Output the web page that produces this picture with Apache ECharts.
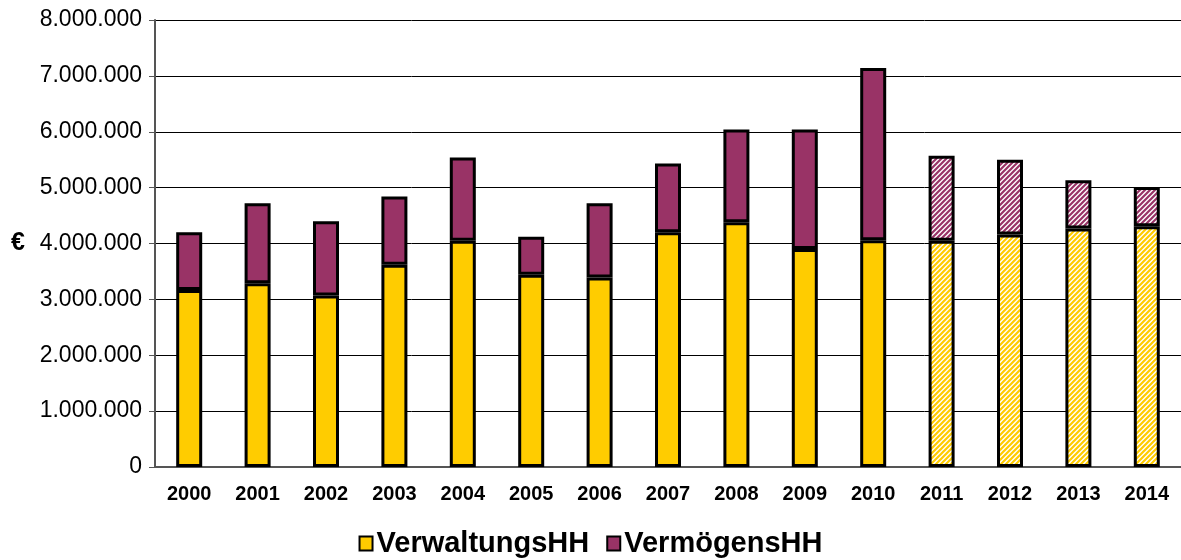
<!DOCTYPE html>
<html>
<head>
<meta charset="utf-8">
<script src="https://cdn.jsdelivr.net/npm/echarts@6/dist/echarts.min.js"></script>
<style>
  html, body { margin: 0; padding: 0; background: #fff; }
  #main { width: 1181px; height: 560px; }
</style>
</head>
<body>
<div id="main"></div>
<script>
// Daten
var years = ['2000', '2001', '2002', '2003', '2004', '2005', '2006', '2007',
             '2008', '2009', '2010', '2011', '2012', '2013', '2014'];
var verwaltungsHH = [3170000, 3290000, 3070000, 3620000, 4050000, 3440000, 3390000, 4200000,
                     4380000, 3900000, 4060000, 4050000, 4160000, 4270000, 4310000];
var vermoegensHH = [1030000, 1430000, 1330000, 1220000, 1490000, 680000, 1330000, 1230000,
                    1660000, 2140000, 3080000, 1520000, 1340000, 860000, 700000];
var planYears = ['2011', '2012', '2013', '2014'];   // schraffiert (Planung)
var yTicks = [0, 1000000, 2000000, 3000000, 4000000, 5000000, 6000000, 7000000, 8000000];

var FONT = 'Liberation Sans, Arial, sans-serif';
var GELB = '#FFCC00';
var LILA = '#993366';

/* Schraffur-Muster als Canvas */
function hatch(color) {
    var n = 5;
    var cv = document.createElement('canvas');
    cv.width = n; cv.height = n;
    var g = cv.getContext('2d');
    g.fillStyle = '#ffffff';
    g.fillRect(0, 0, n, n);
    g.strokeStyle = color;
    g.lineWidth = 2.2;
    g.beginPath();
    g.moveTo(-1, n + 1); g.lineTo(n + 1, -1);
    g.moveTo(-1, 1); g.lineTo(1, -1);
    g.moveTo(n - 1, n + 1); g.lineTo(n + 1, n - 1);
    g.stroke();
    return cv;
}

function buildData(values, color) {
    var pat = hatch(color);
    return values.map(function (v, i) {
        if (planYears.indexOf(years[i]) >= 0) {
            return { value: v, itemStyle: { color: { image: pat, repeat: 'repeat' } } };
        }
        return v;
    });
}

function fmt(v) {
    return String(v).replace(/\B(?=(\d{3})+(?!\d))/g, '.');
}

var myChart = echarts.init(document.getElementById('main'));

var option = {
    backgroundColor: '#ffffff',
    animation: false,
    grid: { left: 155, right: 0, top: 20, bottom: 93 },
    legend: {
        top: 524,
        left: 'center',
        icon: 'rect',
        itemWidth: 13,
        itemHeight: 14,
        itemGap: 17,
        textStyle: { fontFamily: FONT, fontWeight: 'bold', fontSize: 29, color: '#000', padding: [0, 0, 0, -1] },
        data: ['VerwaltungsHH', 'VermögensHH']
    },
    xAxis: {
        type: 'category',
        data: years,
        axisLine: { lineStyle: { color: '#555', width: 2 } },
        axisTick: { length: 6, lineStyle: { color: '#555', width: 2 } },
        axisLabel: { fontFamily: FONT, fontWeight: 'bold', fontSize: 20, color: '#000', margin: 17 }
    },
    yAxis: {
        type: 'value',
        min: yTicks[0],
        max: yTicks[yTicks.length - 1],
        interval: yTicks[1] - yTicks[0],
        name: '€',
        nameLocation: 'middle',
        nameRotate: 0,
        nameGap: 130,
        nameTextStyle: { fontFamily: FONT, fontWeight: 'bold', fontSize: 25, color: '#000' },
        axisLine: { show: true, lineStyle: { color: '#555', width: 2 } },
        axisTick: { show: true, length: 6, lineStyle: { color: '#555', width: 1 } },
        axisLabel: { fontFamily: FONT, fontSize: 23, color: '#000', margin: 13, formatter: fmt },
        splitLine: { lineStyle: { color: '#000', width: 1 } }
    },
    series: [
        {
            name: 'VerwaltungsHH',
            type: 'bar',
            stack: 'hh',
            barWidth: 26,
            itemStyle: { color: GELB, borderColor: '#000', borderWidth: 3 },
            data: buildData(verwaltungsHH, GELB)
        },
        {
            name: 'VermögensHH',
            type: 'bar',
            stack: 'hh',
            barWidth: 26,
            itemStyle: { color: LILA, borderColor: '#000', borderWidth: 3 },
            data: buildData(vermoegensHH, LILA)
        }
    ]
};

myChart.setOption(option);
</script>
</body>
</html>
